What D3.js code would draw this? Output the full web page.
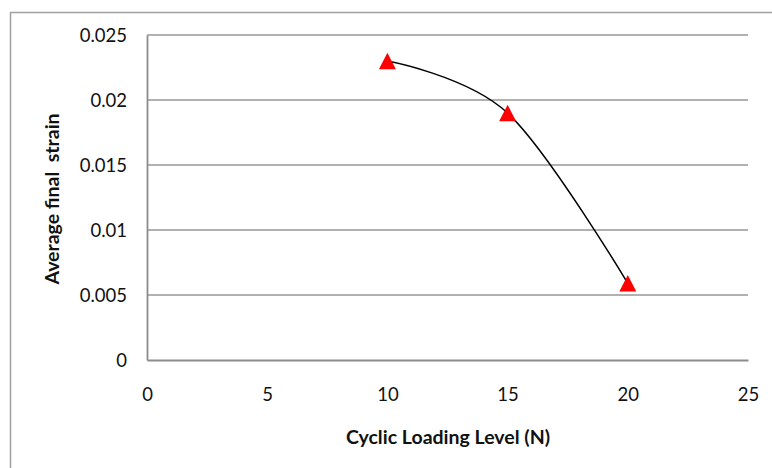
<!DOCTYPE html>
<html>
<head>
<meta charset="utf-8">
<script src="https://cdn.jsdelivr.net/npm/d3@7"></script>
<style>
  html, body { margin: 0; padding: 0; background: #fff; }
  svg { display: block; font-family: Lato, "Open Sans", sans-serif; }
</style>
</head>
<body>
<svg id="chart" width="772" height="468"></svg>
<script>
// Average final strain against cyclic loading level
const loadLevels = [10, 15, 20];
const finalStrain = [0.023, 0.019, 0.0059];
const xTicks = [0, 5, 10, 15, 20, 25];
const yTicks = [0, 0.005, 0.01, 0.015, 0.02, 0.025];

const svg = d3.select("#chart");
const margin = { left: 147, top: 35, right: 748, bottom: 360 };

// chart frame
svg.append("rect")
  .attr("x", 10.5).attr("y", 12.5)
  .attr("width", 800).attr("height", 500)
  .attr("fill", "#fff").attr("stroke", "#a0a0a0").attr("stroke-width", 1.5);

const x = d3.scaleLinear().domain([0, 25]).range([margin.left, margin.right]);
const y = d3.scaleLinear().domain([0, 0.025]).range([margin.bottom, margin.top]);

// horizontal gridlines
svg.append("g")
  .selectAll("line")
  .data(yTicks.filter(d => d > 0))
  .join("line")
  .attr("x1", x(0)).attr("x2", x(25))
  .attr("y1", d => y(d)).attr("y2", d => y(d))
  .attr("stroke", "#979797").attr("stroke-width", 1.6);

// axes
const xAxis = svg.append("g")
  .attr("transform", `translate(0,${y(0)})`)
  .call(d3.axisBottom(x).tickValues(xTicks).tickSize(0).tickPadding(28).tickFormat(d3.format("d")));
const yAxis = svg.append("g")
  .attr("transform", `translate(${x(0)},0)`)
  .call(d3.axisLeft(y).tickValues(yTicks).tickSize(0).tickPadding(20)
    .tickFormat(d => d === 0 ? "0" : String(+d.toFixed(3))));

[xAxis, yAxis].forEach(g => {
  g.select(".domain").attr("stroke", "#8c8c8c").attr("stroke-width", 1.8);
  g.selectAll("text").attr("font-size", 18.5).attr("fill", "#111")
    .attr("font-family", "Lato, 'Open Sans', sans-serif");
});
xAxis.selectAll("text").attr("dy", "0.71em");
yAxis.selectAll("text").attr("dy", "0.36em");

// axis titles
svg.append("text")
  .attr("x", 448).attr("y", 444)
  .attr("text-anchor", "middle")
  .attr("font-size", 19.5).attr("font-weight", "bold").attr("fill", "#111")
  .text("Cyclic Loading Level (N)");

svg.append("text")
  .attr("transform", "translate(59,199) rotate(-90)")
  .attr("text-anchor", "middle")
  .attr("font-size", 19.5).attr("font-weight", "bold").attr("fill", "#111")
  .attr("xml:space", "preserve")
  .style("white-space", "pre")
  .text("Average final  strain");

// smoothed series line
const points = loadLevels.map((v, i) => [v, finalStrain[i]]);
svg.append("path")
  .datum(points)
  .attr("fill", "none")
  .attr("stroke", "#000")
  .attr("stroke-width", 1.5)
  .attr("d", d3.line().x(d => x(d[0])).y(d => y(d[1])).curve(d3.curveCardinal.tension(0)));

// triangle markers, centred on their bounding box
const boxTriangle = {
  draw(context, size) {
    const w = Math.sqrt(size), h = w * 0.97;
    context.moveTo(0, -h / 2);
    context.lineTo(w / 2, h / 2);
    context.lineTo(-w / 2, h / 2);
    context.closePath();
  }
};
const tri = d3.symbol().type(boxTriangle).size(17 * 17);
svg.append("g")
  .selectAll("path")
  .data(points)
  .join("path")
  .attr("transform", d => `translate(${x(d[0])},${y(d[1])})`)
  .attr("d", tri)
  .attr("fill", "#ff0000");
</script>
</body>
</html>
